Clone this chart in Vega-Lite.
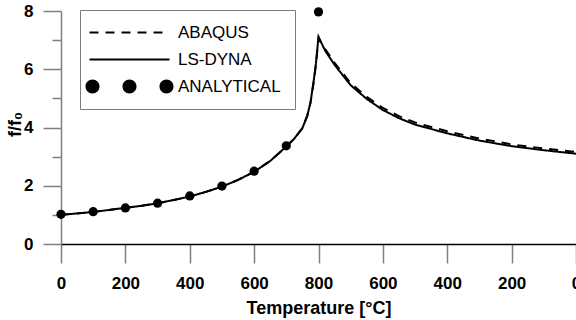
{
  "$schema": "https://vega.github.io/schema/vega-lite/v6.json",
  "autosize": {"type": "none"},
  "width": 515,
  "height": 233,
  "padding": {"left": 61, "top": 11, "right": 0, "bottom": 76},
  "background": "white",
  "config": {
    "view": {"stroke": null},
    "font": "Liberation Sans"
  },
  "datasets": {
    "sim": [
      {"series": "ABAQUS", "s": 0, "f": 1.0},
      {"series": "ABAQUS", "s": 50, "f": 1.05},
      {"series": "ABAQUS", "s": 100, "f": 1.1},
      {"series": "ABAQUS", "s": 150, "f": 1.17},
      {"series": "ABAQUS", "s": 200, "f": 1.24},
      {"series": "ABAQUS", "s": 250, "f": 1.31},
      {"series": "ABAQUS", "s": 300, "f": 1.4},
      {"series": "ABAQUS", "s": 350, "f": 1.51},
      {"series": "ABAQUS", "s": 400, "f": 1.63},
      {"series": "ABAQUS", "s": 450, "f": 1.79},
      {"series": "ABAQUS", "s": 500, "f": 1.97},
      {"series": "ABAQUS", "s": 550, "f": 2.2},
      {"series": "ABAQUS", "s": 600, "f": 2.48},
      {"series": "ABAQUS", "s": 650, "f": 2.85},
      {"series": "ABAQUS", "s": 700, "f": 3.35},
      {"series": "ABAQUS", "s": 725, "f": 3.62},
      {"series": "ABAQUS", "s": 750, "f": 3.98},
      {"series": "ABAQUS", "s": 765, "f": 4.4},
      {"series": "ABAQUS", "s": 775, "f": 4.85},
      {"series": "ABAQUS", "s": 785, "f": 5.55},
      {"series": "ABAQUS", "s": 792, "f": 6.15},
      {"series": "ABAQUS", "s": 800, "f": 7.05},
      {"series": "ABAQUS", "s": 820, "f": 6.7},
      {"series": "ABAQUS", "s": 850, "f": 6.22},
      {"series": "ABAQUS", "s": 900, "f": 5.52},
      {"series": "ABAQUS", "s": 950, "f": 5.05},
      {"series": "ABAQUS", "s": 1000, "f": 4.67},
      {"series": "ABAQUS", "s": 1050, "f": 4.39},
      {"series": "ABAQUS", "s": 1100, "f": 4.17},
      {"series": "ABAQUS", "s": 1200, "f": 3.87},
      {"series": "ABAQUS", "s": 1300, "f": 3.62},
      {"series": "ABAQUS", "s": 1400, "f": 3.42},
      {"series": "ABAQUS", "s": 1500, "f": 3.28},
      {"series": "ABAQUS", "s": 1600, "f": 3.16},
      {"series": "LS-DYNA", "s": 0, "f": 1.0},
      {"series": "LS-DYNA", "s": 50, "f": 1.05},
      {"series": "LS-DYNA", "s": 100, "f": 1.1},
      {"series": "LS-DYNA", "s": 150, "f": 1.17},
      {"series": "LS-DYNA", "s": 200, "f": 1.24},
      {"series": "LS-DYNA", "s": 250, "f": 1.31},
      {"series": "LS-DYNA", "s": 300, "f": 1.4},
      {"series": "LS-DYNA", "s": 350, "f": 1.51},
      {"series": "LS-DYNA", "s": 400, "f": 1.63},
      {"series": "LS-DYNA", "s": 450, "f": 1.79},
      {"series": "LS-DYNA", "s": 500, "f": 1.97},
      {"series": "LS-DYNA", "s": 550, "f": 2.2},
      {"series": "LS-DYNA", "s": 600, "f": 2.48},
      {"series": "LS-DYNA", "s": 650, "f": 2.85},
      {"series": "LS-DYNA", "s": 700, "f": 3.35},
      {"series": "LS-DYNA", "s": 725, "f": 3.62},
      {"series": "LS-DYNA", "s": 750, "f": 3.98},
      {"series": "LS-DYNA", "s": 765, "f": 4.4},
      {"series": "LS-DYNA", "s": 775, "f": 4.85},
      {"series": "LS-DYNA", "s": 785, "f": 5.6},
      {"series": "LS-DYNA", "s": 792, "f": 6.2},
      {"series": "LS-DYNA", "s": 800, "f": 7.12},
      {"series": "LS-DYNA", "s": 820, "f": 6.65},
      {"series": "LS-DYNA", "s": 850, "f": 6.15},
      {"series": "LS-DYNA", "s": 900, "f": 5.45},
      {"series": "LS-DYNA", "s": 950, "f": 4.98},
      {"series": "LS-DYNA", "s": 1000, "f": 4.6},
      {"series": "LS-DYNA", "s": 1050, "f": 4.32},
      {"series": "LS-DYNA", "s": 1100, "f": 4.1},
      {"series": "LS-DYNA", "s": 1200, "f": 3.8},
      {"series": "LS-DYNA", "s": 1300, "f": 3.55},
      {"series": "LS-DYNA", "s": 1400, "f": 3.36},
      {"series": "LS-DYNA", "s": 1500, "f": 3.22},
      {"series": "LS-DYNA", "s": 1600, "f": 3.1}
    ],
    "analytical": [
      {"series": "ANALYTICAL", "s": 0, "f": 1.02},
      {"series": "ANALYTICAL", "s": 100, "f": 1.11},
      {"series": "ANALYTICAL", "s": 200, "f": 1.24},
      {"series": "ANALYTICAL", "s": 300, "f": 1.4},
      {"series": "ANALYTICAL", "s": 400, "f": 1.65},
      {"series": "ANALYTICAL", "s": 500, "f": 1.99},
      {"series": "ANALYTICAL", "s": 600, "f": 2.5},
      {"series": "ANALYTICAL", "s": 700, "f": 3.37},
      {"series": "ANALYTICAL", "s": 800, "f": 7.97}
    ]
  },
  "resolve": {"axis": {"y": "independent"}},
  "layer": [
    {
      "data": {"name": "sim"},
      "mark": {"type": "line", "color": "black", "strokeWidth": 2, "clip": false},
      "encoding": {
        "x": {
          "field": "s", "type": "quantitative",
          "scale": {"domain": [0, 1600], "nice": false, "zero": false},
          "axis": {
            "values": [0, 200, 400, 600, 800, 1000, 1200, 1400, 1600],
            "labelExpr": "datum.value <= 800 ? format(datum.value, 'd') : format(1600 - datum.value, 'd')",
            "labelFlush": false,
            "labelOverlap": false,
            "title": "Temperature [°C]",
            "titleFont": "Liberation Sans", "titleFontSize": 18, "titleFontWeight": "bold", "titleColor": "black",
            "titlePadding": 8,
            "labelFont": "Liberation Sans", "labelFontSize": 17, "labelFontWeight": "bold", "labelColor": "black",
            "labelPadding": 12,
            "tickSize": 19, "tickWidth": 1.5, "tickColor": "#7f7f7f",
            "domainColor": "black", "domainWidth": 1.5,
            "grid": false
          }
        },
        "y": {
          "field": "f", "type": "quantitative",
          "scale": {"domain": [0, 8], "nice": false},
          "axis": {
            "orient": "left",
            "values": [0, 2, 4, 6, 8],
            "labelFlush": false,
            "labelOverlap": false,
            "title": "f/f₀",
            "titleFont": "Liberation Sans", "titleFontSize": 18, "titleFontWeight": "bold", "titleColor": "black",
            "titleX": -46, "titleY": 113, "titleAngle": -90, "titleAlign": "center", "titleBaseline": "middle",
            "labelFont": "Liberation Sans", "labelFontSize": 17, "labelFontWeight": "bold", "labelColor": "black",
            "labelPadding": 10,
            "tickSize": 18,
            "tickWidth": 1.5, "tickColor": "#7f7f7f",
            "domainColor": "#7f7f7f", "domainWidth": 1.5,
            "grid": false
          }
        },
        "detail": {"field": "series"},
        "strokeDash": {
          "field": "series", "type": "nominal",
          "scale": {"domain": ["ABAQUS", "LS-DYNA", "ANALYTICAL"], "range": [[9, 7], [1, 0], [1, 0]]},
          "legend": {
            "orient": "none", "legendX": 19, "legendY": -1,
            "title": null,
            "symbolType": "M-4,0L4,0",
            "symbolSize": 400,
            "symbolStrokeWidth": 2,
            "symbolStrokeColor": "black",
            "symbolOffset": 27,
            "labelFont": "Liberation Sans", "labelFontSize": 17, "labelColor": "black",
            "labelOffset": 40,
            "rowPadding": 9,
            "padding": 14,
            "strokeColor": "#7a7a7a",
            "fillColor": "white",
            "encode": {
              "symbols": {
                "update": {
                  "shape": {"signal": "datum.value === 'ANALYTICAL' ? 'M-3,0A0.7,0.7,0,1,1,-4.4,0A0.7,0.7,0,1,1,-3,0Z M0.7,0A0.7,0.7,0,1,1,-0.7,0A0.7,0.7,0,1,1,0.7,0Z M4.4,0A0.7,0.7,0,1,1,3,0A0.7,0.7,0,1,1,4.4,0Z' : 'M-4,0L4,0'"},
                  "fill": {"signal": "datum.value === 'ANALYTICAL' ? 'black' : 'transparent'"},
                  "stroke": {"value": "black"},
                  "strokeWidth": {"signal": "datum.value === 'ANALYTICAL' ? 0 : 2"},
                  "opacity": {"value": 1}
                }
              }
            }
          }
        }
      }
    },
    {
      "data": {"name": "analytical"},
      "mark": {"type": "point", "filled": true, "color": "black", "size": 85, "opacity": 1, "clip": false},
      "encoding": {
        "x": {"field": "s", "type": "quantitative"},
        "y": {
          "field": "f", "type": "quantitative",
          "axis": {
            "orient": "left",
            "values": [1, 3, 5, 7],
            "labels": false,
            "domain": false,
            "title": null,
            "tickSize": 9,
            "tickWidth": 1.5, "tickColor": "#7f7f7f",
            "grid": false
          }
        }
      }
    }
  ]
}
